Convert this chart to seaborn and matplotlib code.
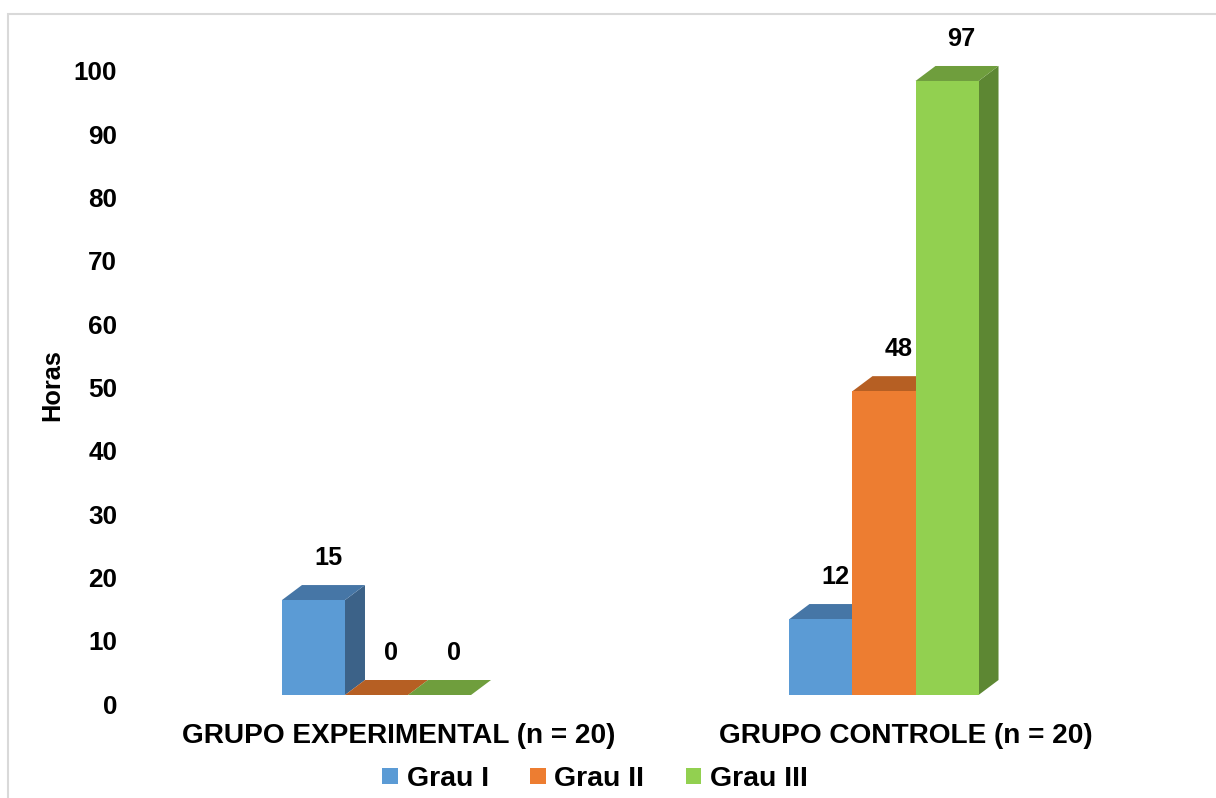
import matplotlib
matplotlib.use("Agg")
import matplotlib.pyplot as plt
import matplotlib.transforms as mtransforms
from matplotlib.patches import Polygon, Patch, Rectangle
import numpy as np
import pandas as pd
import seaborn as sns

# ---- data -------------------------------------------------------------
grupos = ["GRUPO EXPERIMENTAL (n = 20)", "GRUPO CONTROLE (n = 20)"]
graus = ["Grau I", "Grau II", "Grau III"]
horas_experimental = [15, 0, 0]
horas_controle = [12, 48, 97]
y_ticks = [0, 10, 20, 30, 40, 50, 60, 70, 80, 90, 100]

# ---- styling ----------------------------------------------------------
sns.set_style("white")
plt.rcParams["font.family"] = ["Liberation Sans", "DejaVu Sans"]
plt.rcParams["font.weight"] = "bold"
plt.rcParams["text.color"] = "black"
plt.rcParams["xtick.color"] = "black"
plt.rcParams["ytick.color"] = "black"

front_colors = ["#5B9BD5", "#ED7D31", "#92D050"]
top_colors = ["#4676A6", "#B65F23", "#6F9E3D"]
side_colors = ["#3C6288", "#9C5019", "#5D8733"]

df = pd.DataFrame({
    "grupo": np.repeat(grupos, len(graus)),
    "grau": graus * len(grupos),
    "horas": horas_experimental + horas_controle,
})

W, H = 1216, 798
fig = plt.figure(figsize=(W / 100, H / 100), dpi=100)

# outer chart frame (top and left edges visible)
fig.patches.append(Rectangle((8 / W, -0.05), 1.2, (H - 14) / H + 0.05,
                             transform=fig.transFigure, fill=False,
                             edgecolor="#D9D9D9", linewidth=1.5))

ax_left, ax_right = 122.75, 1137.75
ax_top, ax_bottom = 30.35, 695
ax = fig.add_axes([ax_left / W, (H - ax_bottom) / H,
                   (ax_right - ax_left) / W, (ax_bottom - ax_top) / H])

sns.barplot(data=df, x="grupo", y="horas", hue="grau", order=grupos,
            hue_order=graus, palette=front_colors, saturation=1,
            width=0.3725, linewidth=0, legend=False, ax=ax)

ax.set_xlim(-0.5, 1.5)
ax.set_ylim(0, 105)
ax.set_yticks(y_ticks)
ax.set_yticklabels([str(t) for t in y_ticks])
for s in ax.spines.values():
    s.set_visible(False)
ax.tick_params(axis="both", length=0, colors="black")
ax.tick_params(axis="y", labelsize=18.8, pad=4)
ax.tick_params(axis="x", labelsize=20.2, pad=20)
ax.set_xlabel("")
ax.set_ylabel("")
ax.grid(False)

# shift tick labels slightly to line up with the 3D floor
y_off = mtransforms.ScaledTranslation(0, -9 / 100, fig.dpi_scale_trans)
for lab in ax.get_yticklabels():
    lab.set_transform(lab.get_transform() + y_off)
    lab.set_fontweight("bold")
x_off = mtransforms.ScaledTranslation(22 / 100, 0, fig.dpi_scale_trans)
for lab in ax.get_xticklabels():
    lab.set_transform(lab.get_transform() + x_off)
    lab.set_fontweight("bold")

# depth of the pseudo-3D extrusion, in pixels -> data units
fig.canvas.draw()
px_per_x = ax.transData.transform((1, 0))[0] - ax.transData.transform((0, 0))[0]
px_per_y = ax.transData.transform((0, 1))[1] - ax.transData.transform((0, 0))[1]
dx = 20 / px_per_x
dy = 15 / px_per_y

for hue_i, container in enumerate(ax.containers):
    for bar in container:
        x0 = bar.get_x()
        x1 = x0 + bar.get_width()
        h = bar.get_height()
        bar.set_zorder(3 + 2 * hue_i)
        top = Polygon([(x0, h), (x0 + dx, h + dy), (x1 + dx, h + dy), (x1, h)],
                      closed=True, facecolor=top_colors[hue_i],
                      edgecolor="none", zorder=2 + 2 * hue_i)
        side = Polygon([(x1, 0), (x1 + dx, dy), (x1 + dx, h + dy), (x1, h)],
                       closed=True, facecolor=side_colors[hue_i],
                       edgecolor="none", zorder=2 + 2 * hue_i)
        ax.add_patch(side)
        ax.add_patch(top)
        ax.annotate(f"{h:.0f}", xy=(x0 + bar.get_width() / 2, h),
                    xytext=(10.5, 30), textcoords="offset points",
                    ha="center", va="center", fontsize=18.2,
                    fontweight="bold", color="black", zorder=20,
                    annotation_clip=False)

fig.text(52 / W, (H - 385) / H, "Horas", rotation=90, ha="center",
         va="center", fontsize=18.3, fontweight="bold", color="black")

handles = [Patch(facecolor=c, edgecolor="none", label=g)
           for c, g in zip(front_colors, graus)]
fig.legend(handles=handles, loc="center", bbox_to_anchor=(595 / W, (H - 779) / H),
           ncol=3, frameon=False, handlelength=0.55,
           handleheight=0.5, handletextpad=0.3, columnspacing=1.45,
           prop={"weight": "bold", "size": 20.5}, labelcolor="black")

fig.savefig("out.png", dpi=100)
